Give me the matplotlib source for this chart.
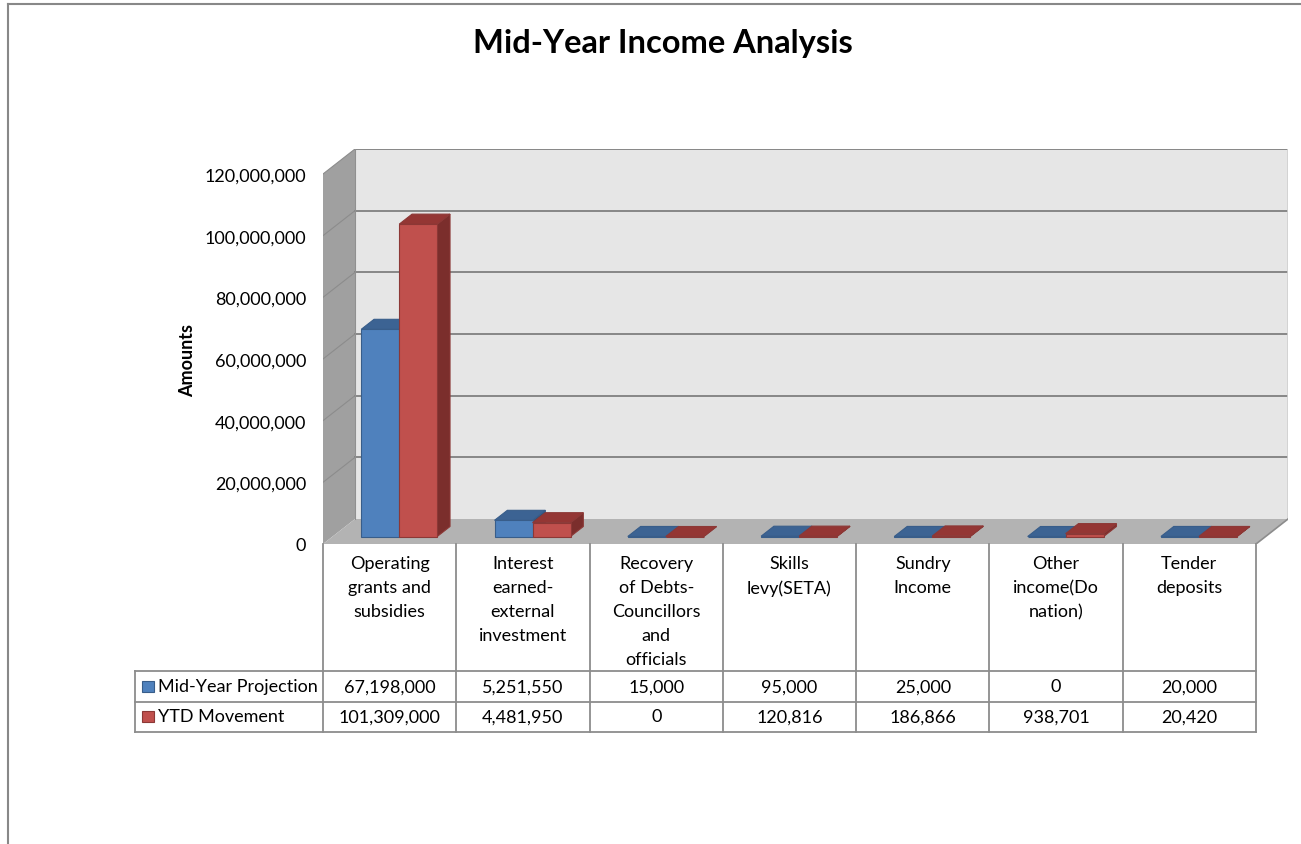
import matplotlib.pyplot as plt
from matplotlib.patches import Polygon

plt.rcParams['font.family'] = ['Lato', 'DejaVu Sans']

categories = ['Operating\ngrants and\nsubsidies', 'Interest\nearned-\nexternal\ninvestment',
              'Recovery\nof Debts-\nCouncillors\nand\nofficials', 'Skills\nlevy(SETA)',
              'Sundry\nIncome', 'Other\nincome(Do\nnation)', 'Tender\ndeposits']
series_names = ['Mid-Year Projection', 'YTD Movement']
mid_year = [67198000, 5251550, 15000, 95000, 25000, 0, 20000]
ytd = [101309000, 4481950, 0, 120816, 186866, 938701, 20420]
y_ticks = [0, 20000000, 40000000, 60000000, 80000000, 100000000, 120000000]

#Colors: front, top, side, edge
blue = ('#4F81BD', '#3C6393', '#2F4F78', '#385D8A')
red = ('#C0504D', '#943634', '#7B2E2C', '#8C3836')

W, H = 1301, 845
fig = plt.figure(figsize=(W / 100, H / 100), dpi=100)

n = len(categories)
ymax = y_ticks[-1]
# depth of the 3D box in data units (32 px across, 25 px up)
DX = 32 / 133.29
DY = 25 / (370 / ymax)

def px_box(l, r, t, b):
    return [l / W, 1 - b / H, (r - l) / W, (b - t) / H]

ax = fig.add_axes(px_box(323, 1288, 150, 545))
ax.set_xlim(0, n + DX)
ax.set_ylim(0, ymax + DY)
for s in ax.spines.values():
    s.set_visible(False)
ax.patch.set_visible(False)
ax.set_xticks([])
ax.set_yticks(y_ticks)
ax.set_yticklabels([f'{v:,}' for v in y_ticks], fontsize=13)
ax.tick_params(axis='y', length=0, pad=12)
ax.set_ylabel('Amounts', fontsize=13, fontweight='bold')
ax.yaxis.set_label_coords(-0.132, 0.468)

#Walls and floor
ax.add_patch(Polygon([(DX, DY), (n + DX, DY), (n + DX, ymax + DY), (DX, ymax + DY)],
                     closed=True, facecolor='#E6E6E6', edgecolor='none', zorder=1))
ax.add_patch(Polygon([(0, 0), (DX, DY), (DX, ymax + DY), (0, ymax)],
                     closed=True, facecolor='#A0A0A0', edgecolor='none', zorder=1))
ax.add_patch(Polygon([(0, 0), (n, 0), (n + DX, DY), (DX, DY)],
                     closed=True, facecolor='#B3B3B3', edgecolor='none', zorder=1))
for v in y_ticks[1:]:
    ax.plot([DX, n + DX], [v + DY, v + DY], color='#808080', lw=1.3, zorder=2)
    ax.plot([0, DX], [v, v + DY], color='#8C8C8C', lw=0.8, zorder=2)
ax.plot([n + DX, n + DX], [DY, ymax + DY], color='#D0D0D0', lw=1.2, zorder=2)
ax.plot([DX, DX], [DY, ymax + DY], color='#909090', lw=0.8, zorder=2)
ax.plot([n, n + DX], [0, DY], color='#8C8C8C', lw=1.2, zorder=2)

#Bars
bw = 0.285
f0, f1 = 0.3, 0.7

def bar3d(x0, val, cols):
    ox, oy = f0 * DX, f0 * DY
    ddx, ddy = (f1 - f0) * DX, (f1 - f0) * DY
    xl, xr = x0 + ox, x0 + bw + ox
    yb, yt = oy, val + oy
    front = [(xl, yb), (xr, yb), (xr, yt), (xl, yt)]
    top = [(xl, yt), (xr, yt), (xr + ddx, yt + ddy), (xl + ddx, yt + ddy)]
    side = [(xr, yb), (xr + ddx, yb + ddy), (xr + ddx, yt + ddy), (xr, yt)]
    for pts, c in [(side, cols[2]), (front, cols[0]), (top, cols[1])]:
        ax.add_patch(Polygon(pts, closed=True, facecolor=c, edgecolor=cols[3],
                             lw=0.8, zorder=3))

for i in range(n):
    bar3d(i + 0.5 - bw, mid_year[i], blue)
    bar3d(i + 0.5, ytd[i], red)

#Data table
left = -(323 - 135) / 133.29
tab = fig.add_axes(px_box(135, 1256, 545, 733))
tab.set_xlim(left, n)
tab.set_ylim(188, 0)
tab.axis('off')
lc = '#8C8C8C'
for i in range(n + 1):
    tab.plot([i, i], [0, 188], color=lc, lw=1.3, clip_on=False)
tab.plot([left, left], [127, 188], color=lc, lw=1.3, clip_on=False)
for yy in [127, 158, 188]:
    tab.plot([left, n], [yy, yy], color=lc, lw=1.3, clip_on=False)

for i, cat in enumerate(categories):
    tab.text(i + 0.5, 11, cat, ha='center', va='top', fontsize=13, linespacing=1.62)

rows = [(mid_year, blue, 142.5), (ytd, red, 172.5)]
for (vals, cols, yc), name in zip(rows, series_names):
    tab.add_patch(Polygon([(left + 0.05, yc - 5.5), (left + 0.14, yc - 5.5),
                           (left + 0.14, yc + 5.5), (left + 0.05, yc + 5.5)],
                          closed=True, facecolor=cols[0], edgecolor=cols[3], lw=0.8))
    tab.text(left + 0.17, yc, name, ha='left', va='center', fontsize=13)
    for i, v in enumerate(vals):
        tab.text(i + 0.5, yc, f'{v:,}', ha='center', va='center', fontsize=13)

fig.text(663 / W, 1 - 44 / H, 'Mid-Year Income Analysis', ha='center', va='center',
         fontsize=23.5, fontweight='bold')

#Chart area border
fig.add_artist(plt.Line2D([8 / W, 1], [1 - 5 / H, 1 - 5 / H], color='#888888', lw=1.5))
fig.add_artist(plt.Line2D([8 / W, 8 / W], [0, 1 - 5 / H], color='#888888', lw=1.5))

fig.savefig('out.png', dpi=100)
